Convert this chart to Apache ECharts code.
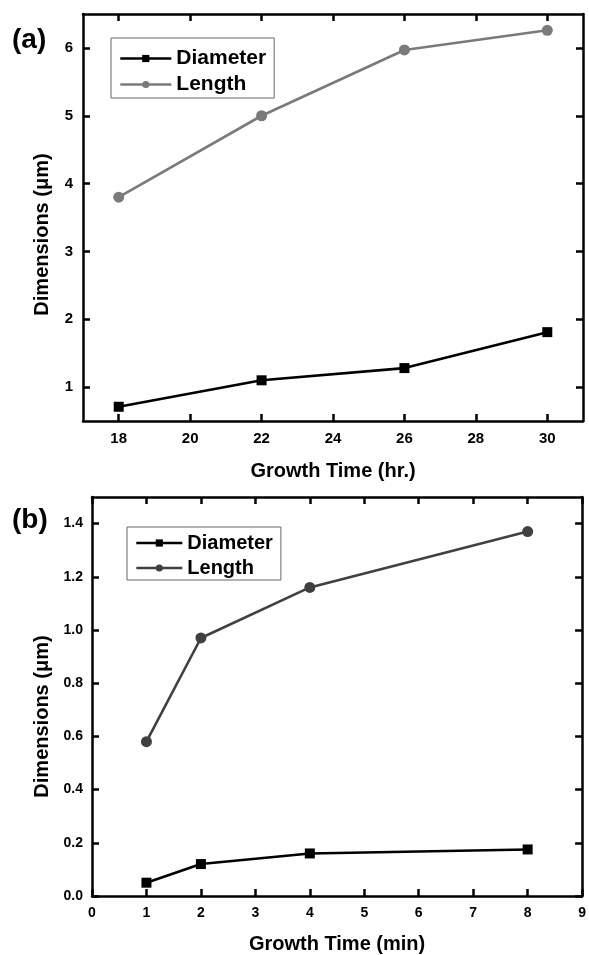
<!DOCTYPE html>
<html>
<head>
<meta charset="utf-8">
<script src="https://cdn.jsdelivr.net/npm/echarts@6/dist/echarts.min.js"></script>
<style>
  html, body { margin: 0; padding: 0; background: #fff; }
  #chart { width: 589px; height: 955px; }
</style>
</head>
<body>
<div id="chart"></div>
<script>
// panel (a): growth time in hours
var hoursA = [18, 22, 26, 30];
var diameterA = [0.71, 1.10, 1.28, 1.81];
var lengthA = [3.80, 5.00, 5.97, 6.26];
var xTicksA = [18, 20, 22, 24, 26, 28, 30];
var yTicksA = [1, 2, 3, 4, 5, 6];

// panel (b): growth time in minutes
var minutesB = [1, 2, 4, 8];
var diameterB = [0.05, 0.12, 0.16, 0.175];
var lengthB = [0.58, 0.97, 1.16, 1.37];
var yTicksB = [0, 0.2, 0.4, 0.6, 0.8, 1.0, 1.2, 1.4];

var FONT = 'Arial, "Liberation Sans", sans-serif';

var chart = echarts.init(document.getElementById('chart'));

function pairs(xs, ys) {
	return xs.map(function (x, i) { return [x, ys[i]]; });
}

// main axis (labels + ticks) or mirrored axis (ticks only)
function axis(gridIndex, pos, min, max, ticks, opts) {
	var mirror = (pos === 'top' || pos === 'right');
	var a = {
		type: 'value',
		gridIndex: gridIndex,
		position: pos,
		min: min,
		max: max,
		splitLine: { show: false },
		axisLine: { show: true, onZero: false, lineStyle: { color: '#000', width: 2.5 } },
		axisTick: { show: true, inside: true, length: 7, lineStyle: { color: '#000', width: 2.5 } },
		axisLabel: {
			show: !mirror,
			color: '#000',
			fontWeight: 'bold',
			fontFamily: FONT,
			fontSize: opts.fontSize,
			margin: opts.margin,
			formatter: opts.formatter
		}
	};
	if (ticks) {
		a.axisTick.customValues = ticks;
		a.axisLabel.customValues = ticks;
	} else {
		a.interval = 1;
	}
	if (!mirror && opts.name) {
		a.name = opts.name;
		a.nameLocation = 'middle';
		a.nameGap = opts.nameGap;
		a.nameTextStyle = {
			color: '#000', fontWeight: 'bold', fontFamily: FONT, fontSize: 20,
			padding: opts.namePadding || 0
		};
	}
	return a;
}

function lineSeries(name, xi, yi, data, color, symbol) {
	return {
		name: name,
		type: 'line',
		xAxisIndex: xi,
		yAxisIndex: yi,
		data: data,
		symbol: symbol,
		symbolSize: symbol === 'rect' ? 10 : 11,
		color: color,
		lineStyle: { color: color, width: 2.6 },
		itemStyle: { color: color },
		animation: false
	};
}

function legend(left, top, fontSize, iconW, pad, lenColor) {
	return {
		orient: 'vertical',
		left: left,
		top: top,
		borderColor: '#666',
		borderWidth: 1,
		padding: pad,
		itemWidth: iconW,
		itemHeight: 9,
		itemGap: 5,
		selectedMode: false,
		textStyle: { color: '#000', fontWeight: 'bold', fontFamily: FONT, fontSize: fontSize },
		data: [
			{ name: 'Diameter', itemStyle: { color: '#000' }, lineStyle: { color: '#000', width: 2.6 } },
			{ name: 'Length', itemStyle: { color: lenColor }, lineStyle: { color: lenColor, width: 2.6 } }
		]
	};
}

var option = {
	backgroundColor: '#fff',
	animation: false,
	grid: [
		{ left: 83, top: 14, width: 500, height: 407 },
		{ left: 92, top: 497, width: 491, height: 401 }
	],
	xAxis: [
		axis(0, 'bottom', 17, 31, xTicksA, { fontSize: 15, margin: 10, name: 'Growth Time (hr.)', nameGap: 40 }),
		axis(0, 'top', 17, 31, xTicksA, {}),
		axis(1, 'bottom', 0, 9, null, { fontSize: 14, margin: 10, name: 'Growth Time (min)', nameGap: 38 }),
		axis(1, 'top', 0, 9, null, {})
	],
	yAxis: [
		axis(0, 'left', 0.5, 6.5, yTicksA, {
			fontSize: 15, margin: 10, name: 'Dimensions (\u03bcm)', nameGap: 31,
			namePadding: [0, 34, 0, 0]
		}),
		axis(0, 'right', 0.5, 6.5, yTicksA, {}),
		axis(1, 'left', 0, 1.5, yTicksB, {
			fontSize: 14, margin: 9, name: 'Dimensions (\u03bcm)', nameGap: 40,
			namePadding: [0, 40, 0, 0],
			formatter: function (v) { return v.toFixed(1); }
		}),
		axis(1, 'right', 0, 1.5, yTicksB, {})
	],
	legend: [
		legend(111, 38, 21, 51, [10, 8, 3, 8], '#7a7a7a'),
		legend(127, 527, 20, 46, [6, 8, 2, 8], '#404040')
	],
	graphic: [
		{ type: 'text', left: 12, top: 26, style: { text: '(a)', fontSize: 28, fontWeight: 'bold', fontFamily: FONT, fill: '#000' } },
		{ type: 'text', left: 12, top: 506, style: { text: '(b)', fontSize: 28, fontWeight: 'bold', fontFamily: FONT, fill: '#000' } }
	],
	series: [
		lineSeries('Diameter', 0, 0, pairs(hoursA, diameterA), '#000', 'rect'),
		lineSeries('Length', 0, 0, pairs(hoursA, lengthA), '#7a7a7a', 'circle'),
		lineSeries('Diameter', 2, 2, pairs(minutesB, diameterB), '#000', 'rect'),
		lineSeries('Length', 2, 2, pairs(minutesB, lengthB), '#404040', 'circle')
	]
};

chart.setOption(option);
</script>
</body>
</html>
